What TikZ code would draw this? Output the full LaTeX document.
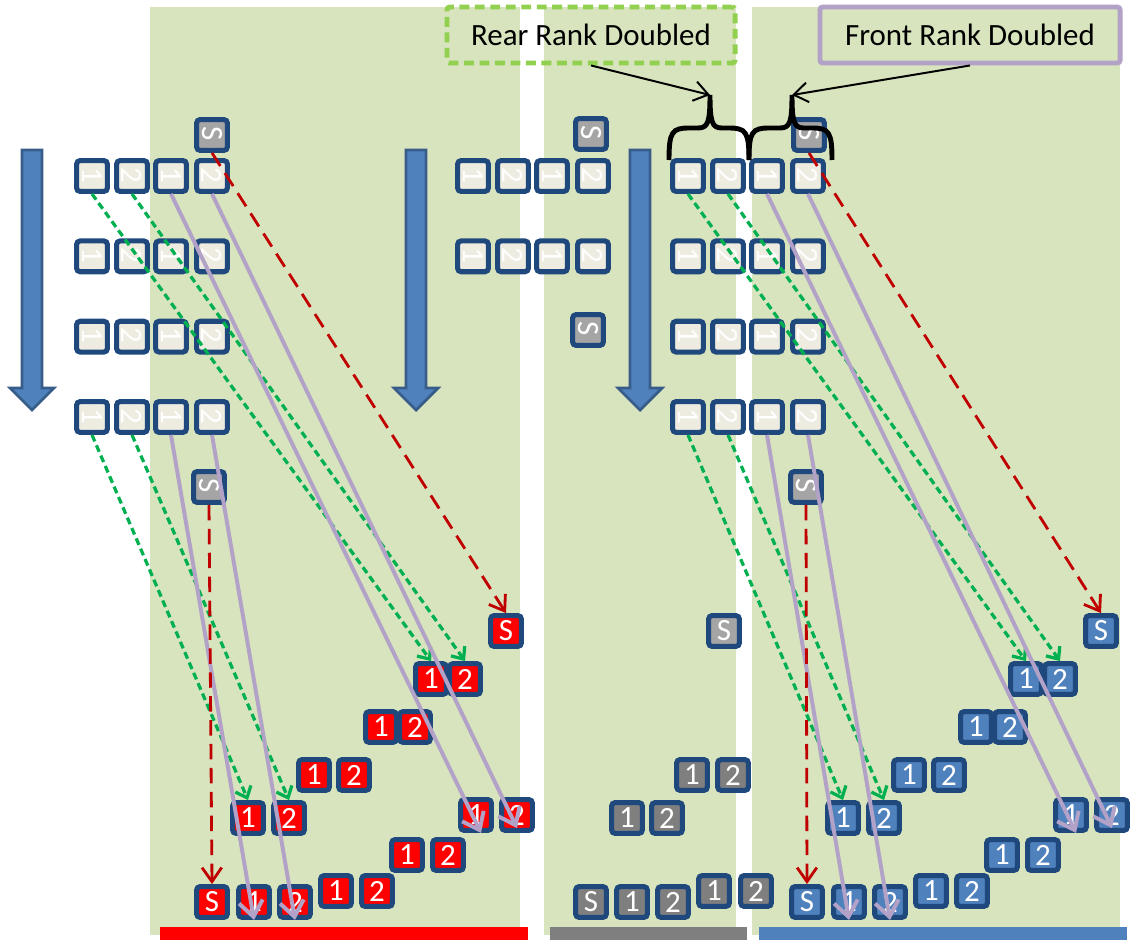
\documentclass[tikz,border=0pt]{standalone}
\usepackage{graphicx}
\usepackage{fontspec}
\setmainfont{Carlito}
\usetikzlibrary{arrows.meta, calc}
\definecolor{panel}{RGB}{215, 228, 189}
\definecolor{cream}{RGB}{238, 236, 225}
\definecolor{navy}{RGB}{31, 73, 125}
\definecolor{steel}{RGB}{79, 129, 189}
\definecolor{steeldark}{RGB}{56, 93, 138}
\definecolor{ltgrey}{RGB}{165, 165, 165}
\definecolor{dkgrey}{RGB}{127, 127, 127}
\definecolor{fgreen}{RGB}{0, 176, 80}
\definecolor{lime}{RGB}{146, 208, 80}
\definecolor{lilac}{RGB}{179, 162, 199}
\definecolor{darkred}{RGB}{192, 0, 0}
\newcommand{\turned}[1]{\rotatebox[origin=c]{-90}{#1}}
\tikzset{
  soldier/.style={draw=navy, line width=3.6pt, rounded corners=2.5pt, minimum size=0.77cm,
    inner sep=0pt, text=white, font=\fontsize{22}{22}\selectfont},
  drill/.style={soldier, fill=cream},
  sarge/.style={soldier, fill=ltgrey},
  rearpath/.style={fgreen, line width=2.3pt, dash pattern=on 5pt off 3pt,
    -{Straight Barb[length=7pt, width=12pt]}},
  frontpath/.style={lilac, line width=2.8pt, -{Straight Barb[length=11pt, width=17pt]}},
  sargepath/.style={darkred, line width=2pt, dash pattern=on 11pt off 6pt,
    -{Straight Barb[length=10pt, width=14pt]}},
  pointer/.style={black, line width=1.4pt, -{Straight Barb[length=10pt, width=14pt]}},
  bracket/.style={black, line width=3.5pt},
  column/.style={fill=steel, draw=steeldark, line width=2pt},
  caption/.style={line width=3.5pt, rounded corners=2pt, minimum height=1.4cm,
    font=\fontsize{22}{22}\selectfont}
}

\begin{document}
\begin{tikzpicture}[x=0.025cm, y=-0.025cm]
  \useasboundingbox (0,0) rectangle (1130,940);

  % panels and bars
  \fill[panel] (150,7) rectangle (520,935);
  \fill[panel] (544,7) rectangle (736,935);
  \fill[panel] (752,7) rectangle (1120,935);
  \fill[red] (160,927) rectangle (528,940);
  \fill[dkgrey] (550,927) rectangle (747,940);
  \fill[steel] (759,927) rectangle (1127,940);

  % direction of march
  \foreach \x in {32, 416, 640}
    \draw[column] (\x-10,150) -- (\x+10,150) -- (\x+10,388) -- (\x+22,388)
      -- (\x,410) -- (\x-22,388) -- (\x-10,388) -- cycle;

  \node[caption, draw=lime, dash pattern=on 7pt off 4pt, minimum width=7.2cm] (rear) at (591,35) {Rear Rank Doubled};
  \node[caption, draw=lilac, minimum width=7.5cm] (front) at (970,35) {Front Rank Doubled};

  % files in column
  \foreach \fm/\x/\rows in {a/92/4, b/473/2, c/688/4} {
    \foreach \row in {1,...,\rows} {
      \pgfmathsetmacro{\y}{176+80.33*(\row-1)}
      \foreach \col/\dx/\lab in {1/0/1, 2/40/2, 3/79/1, 4/120/2}
        \node[drill] (\fm\row\col) at (\x+\dx,\y) {\turned{\lab}};
    }
  }
  \node[sarge] (a-s) at (212,135) {\turned{S}};
  \node[sarge] (a-t) at (209,487) {\turned{S}};
  \node[sarge] (b-s) at (591,134) {\turned{S}};
  \node[sarge] (b-t) at (588,330) {\turned{S}};
  \node[sarge] (c-s) at (809,135) {\turned{S}};
  \node[sarge] (c-t) at (806,487) {\turned{S}};

  % doubled lines
  \foreach \pn/\dx/\fillc in {r/0/red, u/595/steel} {
    \node[soldier, fill=\fillc] (\pn-s) at (506+\dx,631) {S};
    \foreach \rk/\xa/\xb/\y in {1/431/465/679, 2/381/415/727, 3/314/354/775, 4/248/289/818,
                                5/476/517/815, 6/407/448/855, 7/336/377/891, 8/254/295/902} {
      \node[soldier, fill=\fillc] (\pn-\rk a) at (\xa+\dx,\y) {1};
      \node[soldier, fill=\fillc] (\pn-\rk b) at (\xb+\dx,\y) {2};
    }
    \node[soldier, fill=\fillc] (\pn-t) at (212+\dx,902) {S};
  }
  \node[sarge] (g-s) at (724,631) {S};
  \foreach \rk/\xa/\xb/\y in {1/692/733/775, 2/627/667/818, 3/714/756/891, 4/632/673/902} {
    \node[soldier, fill=dkgrey] (g-\rk a) at (\xa,\y) {1};
    \node[soldier, fill=dkgrey] (g-\rk b) at (\xb,\y) {2};
  }
  \node[soldier, fill=dkgrey] (g-t) at (591,902) {S};

  % braces over the right column
  \foreach \l/\m/\r/\tip in {669/710/749/rearTip, 749/792/832/frontTip} {
    \coordinate (\tip) at (\m,95);
    \draw[bracket] (\l,160) .. controls (\l,132) and (\l+3,128) .. (\l+20,128) -- (\m-12,128)
      .. controls (\m-2,128) and (\m,122) .. (\tip) .. controls (\m,122) and (\m+2,128) .. (\m+12,128)
      -- (\r-20,128) .. controls (\r-3,128) and (\r,132) .. (\r,160);
  }
  \draw[pointer] (rear.south) -- (rearTip);
  \draw[pointer] (front.south) -- (frontTip);

  % movements
  \foreach \fm/\pn in {a/r, c/u} {
    \draw[rearpath] (\fm11.south) -- (\pn-1a.north);
    \draw[rearpath] (\fm12.south) -- (\pn-1b.north);
    \draw[rearpath] (\fm41.south) -- (\pn-4a.north);
    \draw[rearpath] (\fm42.south) -- (\pn-4b.north);
    \draw[frontpath] (\fm13.south) -- ($(\pn-5a.south)+(5,0)$);
    \draw[frontpath] (\fm14.south) -- ($(\pn-5b.center)+(0,13)$);
    \draw[frontpath] (\fm43.south) -- (\pn-8a.south);
    \draw[frontpath] (\fm44.south) -- (\pn-8b.south);
    \draw[sargepath] (\fm-s.south) -- (\pn-s.north);
    \draw[sargepath] (\fm-t.south) -- (\pn-t.north);
  }
\end{tikzpicture}
\end{document}
